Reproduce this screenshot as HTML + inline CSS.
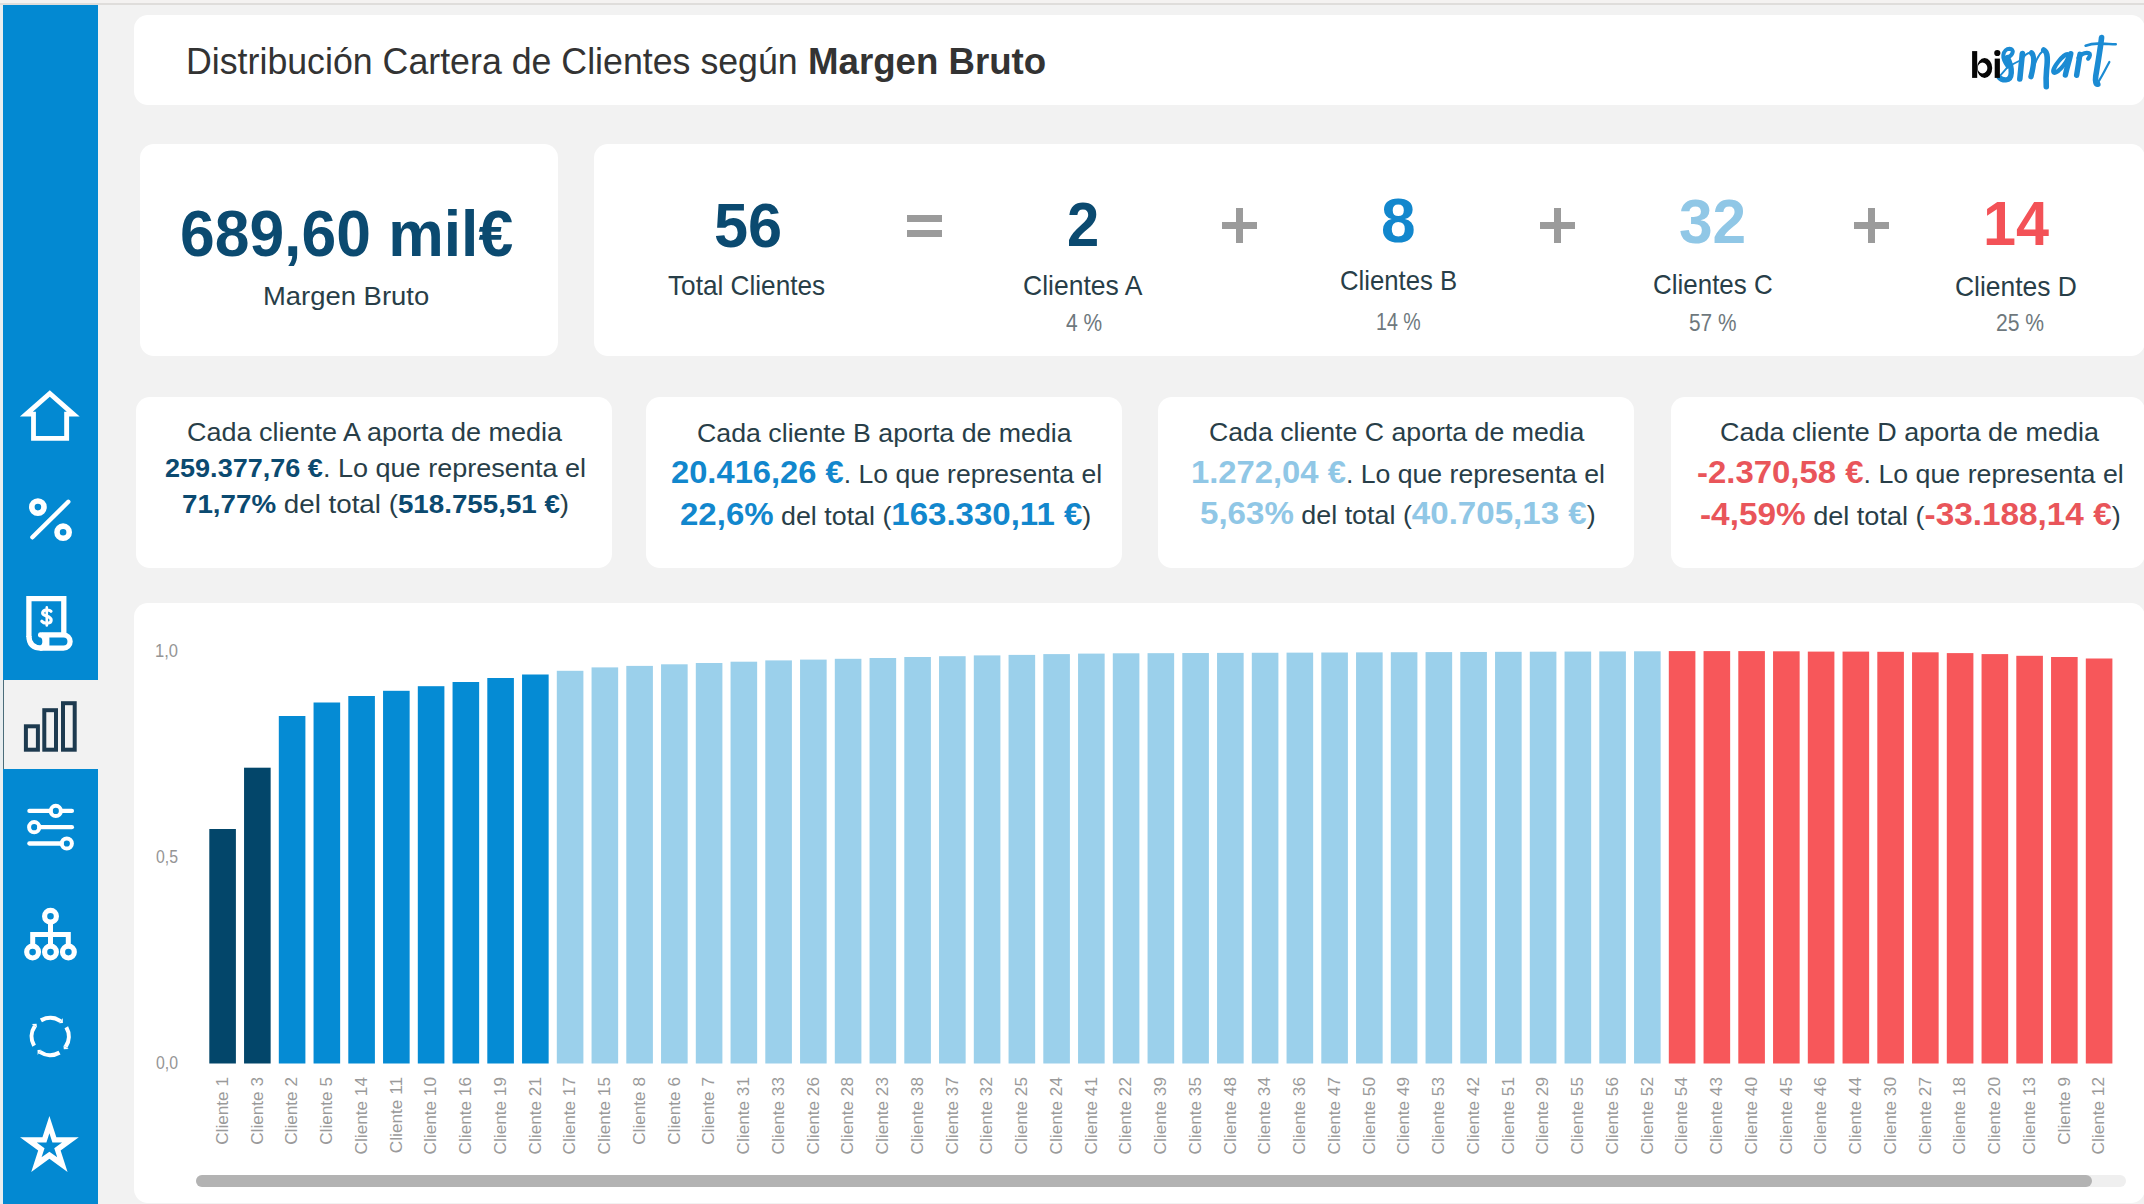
<!DOCTYPE html>
<html><head><meta charset="utf-8"><title>Distribución Cartera de Clientes</title>
<style>
*{margin:0;padding:0;box-sizing:border-box}
html,body{width:2144px;height:1204px;overflow:hidden;background:#f2f2f2;font-family:"Liberation Sans", sans-serif}
.a{position:absolute}
.card{position:absolute;background:#fff;border-radius:14px}
.t{position:absolute;white-space:nowrap;line-height:1;transform-origin:0 0}
.xl{position:absolute;white-space:nowrap;line-height:1;font-size:17.2px;color:#9a9a9a;transform-origin:0 0}
</style></head><body>

<div class="a" style="left:0;top:0;width:2144px;height:3px;background:#f4f2f1"></div>
<div class="a" style="left:0;top:3px;width:2144px;height:2px;background:#dfdddb"></div>
<div class="a" style="left:3px;top:5px;width:95px;height:1199px;background:#0389d2"></div>
<div class="a" style="left:0;top:5px;width:3px;height:1199px;background:#e9eef0"></div>
<div class="a" style="left:3px;top:680px;width:95px;height:89px;background:#f2f2f2"></div>
<div class="a" style="left:3px;top:680px;width:1px;height:89px;background:#4b6d7a"></div>
<div class="card" style="left:134px;top:15px;width:2011px;height:89.5px"></div>
<div class="card" style="left:139.5px;top:144px;width:418.5px;height:211.5px"></div>
<div class="card" style="left:593.5px;top:144px;width:1551.5px;height:211.5px"></div>
<div class="card" style="left:136px;top:397px;width:475.5px;height:171px"></div>
<div class="card" style="left:646px;top:397px;width:475.5px;height:171px"></div>
<div class="card" style="left:1158px;top:397px;width:476px;height:171px"></div>
<div class="card" style="left:1670.5px;top:397px;width:474.5px;height:171px"></div>
<div class="card" style="left:133.5px;top:602.5px;width:2011.5px;height:600px"></div>
<div class="a" style="left:907.3px;top:215.2px;width:34.8px;height:6.6px;background:#9b9b9b"></div>
<div class="a" style="left:907.3px;top:230.1px;width:34.8px;height:6.7px;background:#9b9b9b"></div>
<div class="a" style="left:1222.2px;top:222.2px;width:34.9px;height:6.4px;background:#9b9b9b"></div>
<div class="a" style="left:1236.25px;top:208.1px;width:6.8px;height:34.5px;background:#9b9b9b"></div>
<div class="a" style="left:1540.2px;top:222.2px;width:34.4px;height:6.4px;background:#9b9b9b"></div>
<div class="a" style="left:1554px;top:208.1px;width:6.8px;height:34.5px;background:#9b9b9b"></div>
<div class="a" style="left:1854.3px;top:222.2px;width:34.7px;height:6.4px;background:#9b9b9b"></div>
<div class="a" style="left:1868.25px;top:208.1px;width:6.8px;height:34.5px;background:#9b9b9b"></div>
<svg class="a" style="left:0;top:0" width="2144" height="1204" viewBox="0 0 2144 1204"><rect x="209.3" y="829" width="26.6" height="234.5" fill="#03466a"/><rect x="244.05" y="767.7" width="26.6" height="295.8" fill="#03466a"/><rect x="278.8" y="716" width="26.6" height="347.5" fill="#058bd4"/><rect x="313.55" y="702.5" width="26.6" height="361" fill="#058bd4"/><rect x="348.3" y="696" width="26.6" height="367.5" fill="#058bd4"/><rect x="383.05" y="690.8" width="26.6" height="372.7" fill="#058bd4"/><rect x="417.8" y="686.2" width="26.6" height="377.3" fill="#058bd4"/><rect x="452.55" y="682" width="26.6" height="381.5" fill="#058bd4"/><rect x="487.3" y="678" width="26.6" height="385.5" fill="#058bd4"/><rect x="522.05" y="674.5" width="26.6" height="389" fill="#058bd4"/><rect x="556.8" y="670.8" width="26.6" height="392.7" fill="#9bd0eb"/><rect x="591.55" y="667.4" width="26.6" height="396.1" fill="#9bd0eb"/><rect x="626.3" y="665.9" width="26.6" height="397.6" fill="#9bd0eb"/><rect x="661.05" y="664.3" width="26.6" height="399.2" fill="#9bd0eb"/><rect x="695.8" y="663" width="26.6" height="400.5" fill="#9bd0eb"/><rect x="730.55" y="661.7" width="26.6" height="401.8" fill="#9bd0eb"/><rect x="765.3" y="660.4" width="26.6" height="403.1" fill="#9bd0eb"/><rect x="800.05" y="659.6" width="26.6" height="403.9" fill="#9bd0eb"/><rect x="834.8" y="658.8" width="26.6" height="404.7" fill="#9bd0eb"/><rect x="869.55" y="658" width="26.6" height="405.5" fill="#9bd0eb"/><rect x="904.3" y="657" width="26.6" height="406.5" fill="#9bd0eb"/><rect x="939.05" y="656.2" width="26.6" height="407.3" fill="#9bd0eb"/><rect x="973.8" y="655.4" width="26.6" height="408.1" fill="#9bd0eb"/><rect x="1008.55" y="654.9" width="26.6" height="408.6" fill="#9bd0eb"/><rect x="1043.3" y="654.1" width="26.6" height="409.4" fill="#9bd0eb"/><rect x="1078.05" y="653.6" width="26.6" height="409.9" fill="#9bd0eb"/><rect x="1112.8" y="653.3" width="26.6" height="410.2" fill="#9bd0eb"/><rect x="1147.55" y="653.17" width="26.6" height="410.33" fill="#9bd0eb"/><rect x="1182.3" y="653.03" width="26.6" height="410.47" fill="#9bd0eb"/><rect x="1217.05" y="652.9" width="26.6" height="410.6" fill="#9bd0eb"/><rect x="1251.8" y="652.77" width="26.6" height="410.73" fill="#9bd0eb"/><rect x="1286.55" y="652.63" width="26.6" height="410.87" fill="#9bd0eb"/><rect x="1321.3" y="652.5" width="26.6" height="411" fill="#9bd0eb"/><rect x="1356.05" y="652.37" width="26.6" height="411.13" fill="#9bd0eb"/><rect x="1390.8" y="652.23" width="26.6" height="411.27" fill="#9bd0eb"/><rect x="1425.55" y="652.1" width="26.6" height="411.4" fill="#9bd0eb"/><rect x="1460.3" y="651.97" width="26.6" height="411.53" fill="#9bd0eb"/><rect x="1495.05" y="651.83" width="26.6" height="411.67" fill="#9bd0eb"/><rect x="1529.8" y="651.7" width="26.6" height="411.8" fill="#9bd0eb"/><rect x="1564.55" y="651.57" width="26.6" height="411.93" fill="#9bd0eb"/><rect x="1599.3" y="651.43" width="26.6" height="412.07" fill="#9bd0eb"/><rect x="1634.05" y="651.3" width="26.6" height="412.2" fill="#9bd0eb"/><rect x="1668.8" y="651.1" width="26.6" height="412.4" fill="#f7575a"/><rect x="1703.55" y="651.1" width="26.6" height="412.4" fill="#f7575a"/><rect x="1738.3" y="651.1" width="26.6" height="412.4" fill="#f7575a"/><rect x="1773.05" y="651.3" width="26.6" height="412.2" fill="#f7575a"/><rect x="1807.8" y="651.6" width="26.6" height="411.9" fill="#f7575a"/><rect x="1842.55" y="651.6" width="26.6" height="411.9" fill="#f7575a"/><rect x="1877.3" y="651.8" width="26.6" height="411.7" fill="#f7575a"/><rect x="1912.05" y="652.3" width="26.6" height="411.2" fill="#f7575a"/><rect x="1946.8" y="653.1" width="26.6" height="410.4" fill="#f7575a"/><rect x="1981.55" y="654.1" width="26.6" height="409.4" fill="#f7575a"/><rect x="2016.3" y="655.8" width="26.6" height="407.7" fill="#f7575a"/><rect x="2051.05" y="657" width="26.6" height="406.5" fill="#f7575a"/><rect x="2085.8" y="658.5" width="26.6" height="405" fill="#f7575a"/></svg>
<div class="xl" id="xl0" style="left:0;top:0;transform:translate(213.96px,1077px) rotate(-90deg) translate(-100%,0)">Cliente 1</div>
<div class="xl" id="xl1" style="left:0;top:0;transform:translate(248.71px,1077px) rotate(-90deg) translate(-100%,0)">Cliente 3</div>
<div class="xl" id="xl2" style="left:0;top:0;transform:translate(283.46px,1077px) rotate(-90deg) translate(-100%,0)">Cliente 2</div>
<div class="xl" id="xl3" style="left:0;top:0;transform:translate(318.21px,1077px) rotate(-90deg) translate(-100%,0)">Cliente 5</div>
<div class="xl" id="xl4" style="left:0;top:0;transform:translate(352.96px,1077px) rotate(-90deg) translate(-100%,0)">Cliente 14</div>
<div class="xl" id="xl5" style="left:0;top:0;transform:translate(387.71px,1077px) rotate(-90deg) translate(-100%,0)">Cliente 11</div>
<div class="xl" id="xl6" style="left:0;top:0;transform:translate(422.46px,1077px) rotate(-90deg) translate(-100%,0)">Cliente 10</div>
<div class="xl" id="xl7" style="left:0;top:0;transform:translate(457.21px,1077px) rotate(-90deg) translate(-100%,0)">Cliente 16</div>
<div class="xl" id="xl8" style="left:0;top:0;transform:translate(491.96px,1077px) rotate(-90deg) translate(-100%,0)">Cliente 19</div>
<div class="xl" id="xl9" style="left:0;top:0;transform:translate(526.71px,1077px) rotate(-90deg) translate(-100%,0)">Cliente 21</div>
<div class="xl" id="xl10" style="left:0;top:0;transform:translate(561.46px,1077px) rotate(-90deg) translate(-100%,0)">Cliente 17</div>
<div class="xl" id="xl11" style="left:0;top:0;transform:translate(596.21px,1077px) rotate(-90deg) translate(-100%,0)">Cliente 15</div>
<div class="xl" id="xl12" style="left:0;top:0;transform:translate(630.96px,1077px) rotate(-90deg) translate(-100%,0)">Cliente 8</div>
<div class="xl" id="xl13" style="left:0;top:0;transform:translate(665.71px,1077px) rotate(-90deg) translate(-100%,0)">Cliente 6</div>
<div class="xl" id="xl14" style="left:0;top:0;transform:translate(700.46px,1077px) rotate(-90deg) translate(-100%,0)">Cliente 7</div>
<div class="xl" id="xl15" style="left:0;top:0;transform:translate(735.21px,1077px) rotate(-90deg) translate(-100%,0)">Cliente 31</div>
<div class="xl" id="xl16" style="left:0;top:0;transform:translate(769.96px,1077px) rotate(-90deg) translate(-100%,0)">Cliente 33</div>
<div class="xl" id="xl17" style="left:0;top:0;transform:translate(804.71px,1077px) rotate(-90deg) translate(-100%,0)">Cliente 26</div>
<div class="xl" id="xl18" style="left:0;top:0;transform:translate(839.46px,1077px) rotate(-90deg) translate(-100%,0)">Cliente 28</div>
<div class="xl" id="xl19" style="left:0;top:0;transform:translate(874.21px,1077px) rotate(-90deg) translate(-100%,0)">Cliente 23</div>
<div class="xl" id="xl20" style="left:0;top:0;transform:translate(908.96px,1077px) rotate(-90deg) translate(-100%,0)">Cliente 38</div>
<div class="xl" id="xl21" style="left:0;top:0;transform:translate(943.71px,1077px) rotate(-90deg) translate(-100%,0)">Cliente 37</div>
<div class="xl" id="xl22" style="left:0;top:0;transform:translate(978.46px,1077px) rotate(-90deg) translate(-100%,0)">Cliente 32</div>
<div class="xl" id="xl23" style="left:0;top:0;transform:translate(1013.21px,1077px) rotate(-90deg) translate(-100%,0)">Cliente 25</div>
<div class="xl" id="xl24" style="left:0;top:0;transform:translate(1047.96px,1077px) rotate(-90deg) translate(-100%,0)">Cliente 24</div>
<div class="xl" id="xl25" style="left:0;top:0;transform:translate(1082.71px,1077px) rotate(-90deg) translate(-100%,0)">Cliente 41</div>
<div class="xl" id="xl26" style="left:0;top:0;transform:translate(1117.46px,1077px) rotate(-90deg) translate(-100%,0)">Cliente 22</div>
<div class="xl" id="xl27" style="left:0;top:0;transform:translate(1152.21px,1077px) rotate(-90deg) translate(-100%,0)">Cliente 39</div>
<div class="xl" id="xl28" style="left:0;top:0;transform:translate(1186.96px,1077px) rotate(-90deg) translate(-100%,0)">Cliente 35</div>
<div class="xl" id="xl29" style="left:0;top:0;transform:translate(1221.71px,1077px) rotate(-90deg) translate(-100%,0)">Cliente 48</div>
<div class="xl" id="xl30" style="left:0;top:0;transform:translate(1256.46px,1077px) rotate(-90deg) translate(-100%,0)">Cliente 34</div>
<div class="xl" id="xl31" style="left:0;top:0;transform:translate(1291.21px,1077px) rotate(-90deg) translate(-100%,0)">Cliente 36</div>
<div class="xl" id="xl32" style="left:0;top:0;transform:translate(1325.96px,1077px) rotate(-90deg) translate(-100%,0)">Cliente 47</div>
<div class="xl" id="xl33" style="left:0;top:0;transform:translate(1360.71px,1077px) rotate(-90deg) translate(-100%,0)">Cliente 50</div>
<div class="xl" id="xl34" style="left:0;top:0;transform:translate(1395.46px,1077px) rotate(-90deg) translate(-100%,0)">Cliente 49</div>
<div class="xl" id="xl35" style="left:0;top:0;transform:translate(1430.21px,1077px) rotate(-90deg) translate(-100%,0)">Cliente 53</div>
<div class="xl" id="xl36" style="left:0;top:0;transform:translate(1464.96px,1077px) rotate(-90deg) translate(-100%,0)">Cliente 42</div>
<div class="xl" id="xl37" style="left:0;top:0;transform:translate(1499.71px,1077px) rotate(-90deg) translate(-100%,0)">Cliente 51</div>
<div class="xl" id="xl38" style="left:0;top:0;transform:translate(1534.46px,1077px) rotate(-90deg) translate(-100%,0)">Cliente 29</div>
<div class="xl" id="xl39" style="left:0;top:0;transform:translate(1569.21px,1077px) rotate(-90deg) translate(-100%,0)">Cliente 55</div>
<div class="xl" id="xl40" style="left:0;top:0;transform:translate(1603.96px,1077px) rotate(-90deg) translate(-100%,0)">Cliente 56</div>
<div class="xl" id="xl41" style="left:0;top:0;transform:translate(1638.71px,1077px) rotate(-90deg) translate(-100%,0)">Cliente 52</div>
<div class="xl" id="xl42" style="left:0;top:0;transform:translate(1673.46px,1077px) rotate(-90deg) translate(-100%,0)">Cliente 54</div>
<div class="xl" id="xl43" style="left:0;top:0;transform:translate(1708.21px,1077px) rotate(-90deg) translate(-100%,0)">Cliente 43</div>
<div class="xl" id="xl44" style="left:0;top:0;transform:translate(1742.96px,1077px) rotate(-90deg) translate(-100%,0)">Cliente 40</div>
<div class="xl" id="xl45" style="left:0;top:0;transform:translate(1777.71px,1077px) rotate(-90deg) translate(-100%,0)">Cliente 45</div>
<div class="xl" id="xl46" style="left:0;top:0;transform:translate(1812.46px,1077px) rotate(-90deg) translate(-100%,0)">Cliente 46</div>
<div class="xl" id="xl47" style="left:0;top:0;transform:translate(1847.21px,1077px) rotate(-90deg) translate(-100%,0)">Cliente 44</div>
<div class="xl" id="xl48" style="left:0;top:0;transform:translate(1881.96px,1077px) rotate(-90deg) translate(-100%,0)">Cliente 30</div>
<div class="xl" id="xl49" style="left:0;top:0;transform:translate(1916.71px,1077px) rotate(-90deg) translate(-100%,0)">Cliente 27</div>
<div class="xl" id="xl50" style="left:0;top:0;transform:translate(1951.46px,1077px) rotate(-90deg) translate(-100%,0)">Cliente 18</div>
<div class="xl" id="xl51" style="left:0;top:0;transform:translate(1986.21px,1077px) rotate(-90deg) translate(-100%,0)">Cliente 20</div>
<div class="xl" id="xl52" style="left:0;top:0;transform:translate(2020.96px,1077px) rotate(-90deg) translate(-100%,0)">Cliente 13</div>
<div class="xl" id="xl53" style="left:0;top:0;transform:translate(2055.71px,1077px) rotate(-90deg) translate(-100%,0)">Cliente 9</div>
<div class="xl" id="xl54" style="left:0;top:0;transform:translate(2090.46px,1077px) rotate(-90deg) translate(-100%,0)">Cliente 12</div>
<div class="a" style="left:196px;top:1175px;width:1930px;height:12px;border-radius:6px;background:#efefef"></div>
<div class="a" style="left:196px;top:1175px;width:1896px;height:12px;border-radius:6px;background:#b3b3b3"></div>
<div class="t" id="title" style="left:186.07px;top:44.3px;font-size:36.5px;font-weight:400;color:#333333;transform:scaleX(0.9790);">Distribución Cartera de Clientes según</div>
<div class="t" id="title2" style="left:808.43px;top:44.3px;font-size:36.5px;font-weight:700;color:#333333;transform:scaleX(1.0038);">Margen Bruto</div>
<div class="t" id="k1" style="left:179.86px;top:202.12px;font-size:64px;font-weight:700;color:#0b4a70;transform:scaleX(0.9751);">689,60 mil€</div>
<div class="t" id="k1l" style="left:263.44px;top:284.13px;font-size:25.6px;font-weight:400;color:#283e48;transform:scaleX(1.0717);">Margen Bruto</div>
<div class="t" id="n56" style="left:713.81px;top:193.97px;font-size:63px;font-weight:700;color:#0b4a70;transform:scaleX(0.9727);">56</div>
<div class="t" id="l56" style="left:668.47px;top:272.3px;font-size:28px;font-weight:400;color:#283e48;transform:scaleX(0.9351);">Total Clientes</div>
<div class="t" id="n2" style="left:1066.69px;top:193.37px;font-size:63px;font-weight:700;color:#0b4a70;transform:scaleX(0.9194);">2</div>
<div class="t" id="l2" style="left:1023.2px;top:272.3px;font-size:28px;font-weight:400;color:#283e48;transform:scaleX(0.9464);">Clientes A</div>
<div class="t" id="p2" style="left:1065.9px;top:312.03px;font-size:23px;font-weight:400;color:#6e787d;transform:scaleX(0.9103);">4 %</div>
<div class="t" id="n8" style="left:1380.89px;top:188.67px;font-size:63px;font-weight:700;color:#1287cd;transform:scaleX(0.9871);">8</div>
<div class="t" id="l8" style="left:1339.98px;top:266.6px;font-size:28px;font-weight:400;color:#283e48;transform:scaleX(0.9175);">Clientes B</div>
<div class="t" id="p8" style="left:1375.8px;top:311.33px;font-size:23px;font-weight:400;color:#6e787d;transform:scaleX(0.8520);">14 %</div>
<div class="t" id="n32" style="left:1679.27px;top:190.37px;font-size:63px;font-weight:700;color:#90c7e6;transform:scaleX(0.9591);">32</div>
<div class="t" id="l32" style="left:1653.18px;top:270.8px;font-size:28px;font-weight:400;color:#283e48;transform:scaleX(0.9268);">Clientes C</div>
<div class="t" id="p32" style="left:1689.22px;top:311.63px;font-size:23px;font-weight:400;color:#6e787d;transform:scaleX(0.9039);">57 %</div>
<div class="t" id="n14" style="left:1983.16px;top:192.47px;font-size:63px;font-weight:700;color:#f35257;transform:scaleX(0.9424);">14</div>
<div class="t" id="l14" style="left:1955.2px;top:272.7px;font-size:28px;font-weight:400;color:#283e48;transform:scaleX(0.9441);">Clientes D</div>
<div class="t" id="p14" style="left:1995.55px;top:311.63px;font-size:23px;font-weight:400;color:#6e787d;transform:scaleX(0.9176);">25 %</div>
<div class="t" id="a1" style="left:187.1px;top:419.49px;font-size:26px;font-weight:400;color:#283e48;transform:scaleX(1.0380);">Cada cliente A aporta de media</div>
<div class="t" id="a2" style="left:165px;top:454.79px;font-size:26px;font-weight:400;color:#283e48;transform:scaleX(1.0402);"><span style="font-weight:700;color:#0b4a70">259.377,76 €</span>. Lo que representa el</div>
<div class="t" id="a3" style="left:182.25px;top:491.49px;font-size:26px;font-weight:400;color:#283e48;transform:scaleX(1.0669);"><span style="font-weight:700;color:#0b4a70">71,77%</span> del total (<span style="font-weight:700;color:#0b4a70">518.755,51 €</span>)</div>
<div class="t" id="b1" style="left:696.84px;top:419.79px;font-size:26px;font-weight:400;color:#283e48;transform:scaleX(1.0286);">Cada cliente B aporta de media</div>
<div class="t" id="b2" style="left:671.15px;top:455.51px;font-size:26px;font-weight:400;color:#283e48;transform:scaleX(1.0217);"><span style="font-weight:700;color:#1287cd;font-size:32px">20.416,26 €</span>. Lo que representa el</div>
<div class="t" id="b3" style="left:680.26px;top:497.61px;font-size:26px;font-weight:400;color:#283e48;transform:scaleX(1.0315);"><span style="font-weight:700;color:#1287cd;font-size:32px">22,6%</span> del total (<span style="font-weight:700;color:#1287cd;font-size:32px">163.330,11 €</span>)</div>
<div class="t" id="c1" style="left:1209.01px;top:418.89px;font-size:26px;font-weight:400;color:#283e48;transform:scaleX(1.0266);">Cada cliente C aporta de media</div>
<div class="t" id="c2" style="left:1190.96px;top:455.81px;font-size:26px;font-weight:400;color:#283e48;transform:scaleX(1.0242);"><span style="font-weight:700;color:#90c7e6;font-size:32px">1.272,04 €</span>. Lo que representa el</div>
<div class="t" id="c3" style="left:1200.35px;top:497.41px;font-size:26px;font-weight:400;color:#283e48;transform:scaleX(1.0340);"><span style="font-weight:700;color:#90c7e6;font-size:32px">5,63%</span> del total (<span style="font-weight:700;color:#90c7e6;font-size:32px">40.705,13 €</span>)</div>
<div class="t" id="d1" style="left:1719.97px;top:418.89px;font-size:26px;font-weight:400;color:#283e48;transform:scaleX(1.0364);">Cada cliente D aporta de media</div>
<div class="t" id="d2" style="left:1696.93px;top:455.61px;font-size:26px;font-weight:400;color:#283e48;transform:scaleX(1.0286);"><span style="font-weight:700;color:#e9555a;font-size:32px">-2.370,58 €</span>. Lo que representa el</div>
<div class="t" id="d3" style="left:1699.63px;top:497.51px;font-size:26px;font-weight:400;color:#283e48;transform:scaleX(1.0416);"><span style="font-weight:700;color:#e9555a;font-size:32px">-4,59%</span> del total (<span style="font-weight:700;color:#e9555a;font-size:32px">-33.188,14 €</span>)</div>
<div class="t" id="y10" style="left:155.2px;top:642.89px;font-size:17.5px;font-weight:400;color:#959595;transform:scaleX(0.9455);">1,0</div>
<div class="t" id="y05" style="left:156.02px;top:848.99px;font-size:17.5px;font-weight:400;color:#959595;transform:scaleX(0.9043);">0,5</div>
<div class="t" id="y00" style="left:156.02px;top:1055.19px;font-size:17.5px;font-weight:400;color:#959595;transform:scaleX(0.9043);">0,0</div>
<svg class="a" style="left:0;top:0" width="110" height="1204" viewBox="0 0 110 1204"><path fill="#fff" fill-rule="evenodd" d="M49.8,390.3 L19.9,416.6 L31.1,416.6 L31.1,440.8 L69.1,440.8 L69.1,416.6 L79.7,416.6 Z M49.8,396.8 L32.8,411.7 L35.9,411.7 L35.9,435.9 L64.2,435.9 L64.2,411.7 L66.8,411.7 Z"/><g fill="none" stroke="#fff"><circle cx="37.9" cy="507.1" r="6.1" stroke-width="5.6"/><circle cx="63.1" cy="532.2" r="6.1" stroke-width="5.6"/><line x1="32.4" y1="537.3" x2="68.3" y2="501.8" stroke-width="4.4" stroke-linecap="round"/></g><g fill="none" stroke="#fff" stroke-width="5.3" stroke-linejoin="miter"><path d="M28.9,637 V598.6 H63.8 V634"/><path d="M28.9,636 Q28.9,648.2 42,648.2 H63.4 A6.7,6.7 0 0 0 63.4,634.8 H41.5"/><path d="M40.6,634.9 C45.8,635.5 46.8,645.5 41.2,648.2" stroke-linecap="round"/><line x1="46.6" y1="637" x2="46.6" y2="646" stroke-width="5.6"/></g><g fill="none" stroke="#fff" stroke-linecap="round"><path d="M51,611.3 C49.6,609.6 43,609 42.6,612.8 C42.3,616.4 51.2,615.6 51.2,620 C51.2,624.2 44,624 41.8,621.2" stroke-width="3.1"/><path d="M46.8,607.4 V625.4" stroke-width="2.6"/></g><g fill="none" stroke="#1d3a4f" stroke-width="4"><rect x="25.9" y="726.3" width="12" height="23.4"/><rect x="44.3" y="710.2" width="11.7" height="39.5"/><rect x="63" y="703.2" width="11.7" height="46.5"/></g><g stroke="#fff" stroke-width="4.3" stroke-linecap="round" fill="none"><line x1="29.4" y1="810.9" x2="50.6" y2="810.9"/><line x1="61" y1="810.9" x2="71.9" y2="810.9"/><circle cx="55.8" cy="810.9" r="5.1" stroke-width="4"/><line x1="39.4" y1="827.2" x2="71.9" y2="827.2"/><circle cx="34.2" cy="827.2" r="5.1" stroke-width="4"/><line x1="29.4" y1="843.5" x2="61.6" y2="843.5"/><circle cx="66.8" cy="843.5" r="5.1" stroke-width="4"/></g><g stroke="#fff" fill="none" stroke-width="5.2"><circle cx="50.5" cy="916.3" r="5.9"/><circle cx="32.6" cy="952.1" r="5.9"/><circle cx="50.5" cy="952.1" r="5.9"/><circle cx="68.4" cy="952.1" r="5.9"/><path d="M50.5,922 V946 M32.7,946 V934.4 H68.3 V946" stroke-width="5"/></g><path d="M40.90,1020.39 A18.60,18.60 0 0 1 60.60,1021.08" fill="none" stroke="#fff" stroke-width="4.1"/><path d="M62.73,1017.93 L62.89,1022.90 L59.15,1023.24 Z" fill="#fff"/><path d="M66.31,1027.20 A18.60,18.60 0 0 1 65.62,1046.90" fill="none" stroke="#fff" stroke-width="4.1"/><path d="M68.77,1049.03 L63.80,1049.19 L63.46,1045.45 Z" fill="#fff"/><path d="M59.50,1052.61 A18.60,18.60 0 0 1 39.80,1051.92" fill="none" stroke="#fff" stroke-width="4.1"/><path d="M37.67,1055.07 L37.51,1050.10 L41.25,1049.76 Z" fill="#fff"/><path d="M34.09,1045.80 A18.60,18.60 0 0 1 34.78,1026.10" fill="none" stroke="#fff" stroke-width="4.1"/><path d="M31.63,1023.97 L36.60,1023.81 L36.94,1027.55 Z" fill="#fff"/><path fill="#fff" fill-rule="evenodd" d="M49.40,1116.00 L56.34,1137.35 L78.79,1137.35 L60.62,1150.55 L67.56,1171.90 L49.40,1158.70 L31.24,1171.90 L38.18,1150.55 L20.01,1137.35 L42.46,1137.35 Z M49.40,1133.30 L52.40,1142.47 L62.05,1142.49 L54.25,1148.18 L57.22,1157.36 L49.40,1151.70 L41.58,1157.36 L44.55,1148.18 L36.75,1142.49 L46.40,1142.47 Z"/></svg>
<svg class="a" style="left:1960px;top:30px" width="164" height="65" viewBox="0 0 2144 850"><g fill="none" stroke="#1b8bd3" stroke-linecap="round" stroke-linejoin="round"><path d="M522,597 C560,560 600,510 625,480" stroke-width="24"/><path d="M625,480 C590,430 560,380 566,330 C572,275 610,245 648,245 C680,247 695,270 688,295 C680,325 650,350 620,362" stroke-width="52"/><path d="M618,360 C652,420 674,480 670,560 C667,620 640,650 600,652 C560,654 530,640 512,618" stroke-width="71"/><path d="M636,478 C680,455 720,430 765,408" stroke-width="24"/><path d="M815,308 L782,640" stroke-width="73"/><path d="M800,400 C840,330 885,290 935,298" stroke-width="26"/><path d="M935,300 C978,335 968,450 928,610" stroke-width="71"/><path d="M930,600 C960,480 1010,330 1092,265" stroke-width="26"/><path d="M1095,262 C1152,290 1146,400 1132,520 C1122,620 1126,700 1128,742" stroke-width="73"/><ellipse cx="1320" cy="438" rx="150" ry="42" transform="rotate(-51.4 1320 438)" stroke-width="56"/><path d="M1448,310 C1430,400 1395,500 1378,588" stroke-width="71"/><path d="M1525,592 C1540,500 1555,400 1568,318" stroke-width="71"/><path d="M1548,365 C1580,318 1630,292 1680,300 C1708,308 1702,348 1675,375" stroke-width="54"/><path d="M1851,100 C1835,250 1800,450 1775,600 C1765,680 1780,712 1802,708" stroke-width="73"/><path d="M1795,702 C1850,620 1910,500 1953,418" stroke-width="29"/><path d="M1642,205 C1690,188 1740,178 1800,178 C1880,178 1960,184 2036,186" stroke-width="34"/></g></svg>
<svg class="a" style="left:0;top:0" width="2144" height="100" viewBox="0 0 2144 100"><g fill="#070707"><rect x="1972.1" y="51.1" width="5.1" height="26.8"/><path fill-rule="evenodd" d="M1977,68 A7.6,9.9 0 1 1 1992.2,68 A7.6,9.9 0 1 1 1977,68 Z M1977.6,68 A4.9,5.4 0 1 0 1987.4,68 A4.9,5.4 0 1 0 1977.6,68 Z"/><rect x="1994.7" y="58.6" width="5.2" height="19.3"/><circle cx="1997.3" cy="53" r="3.1"/></g></svg>
</body></html>
